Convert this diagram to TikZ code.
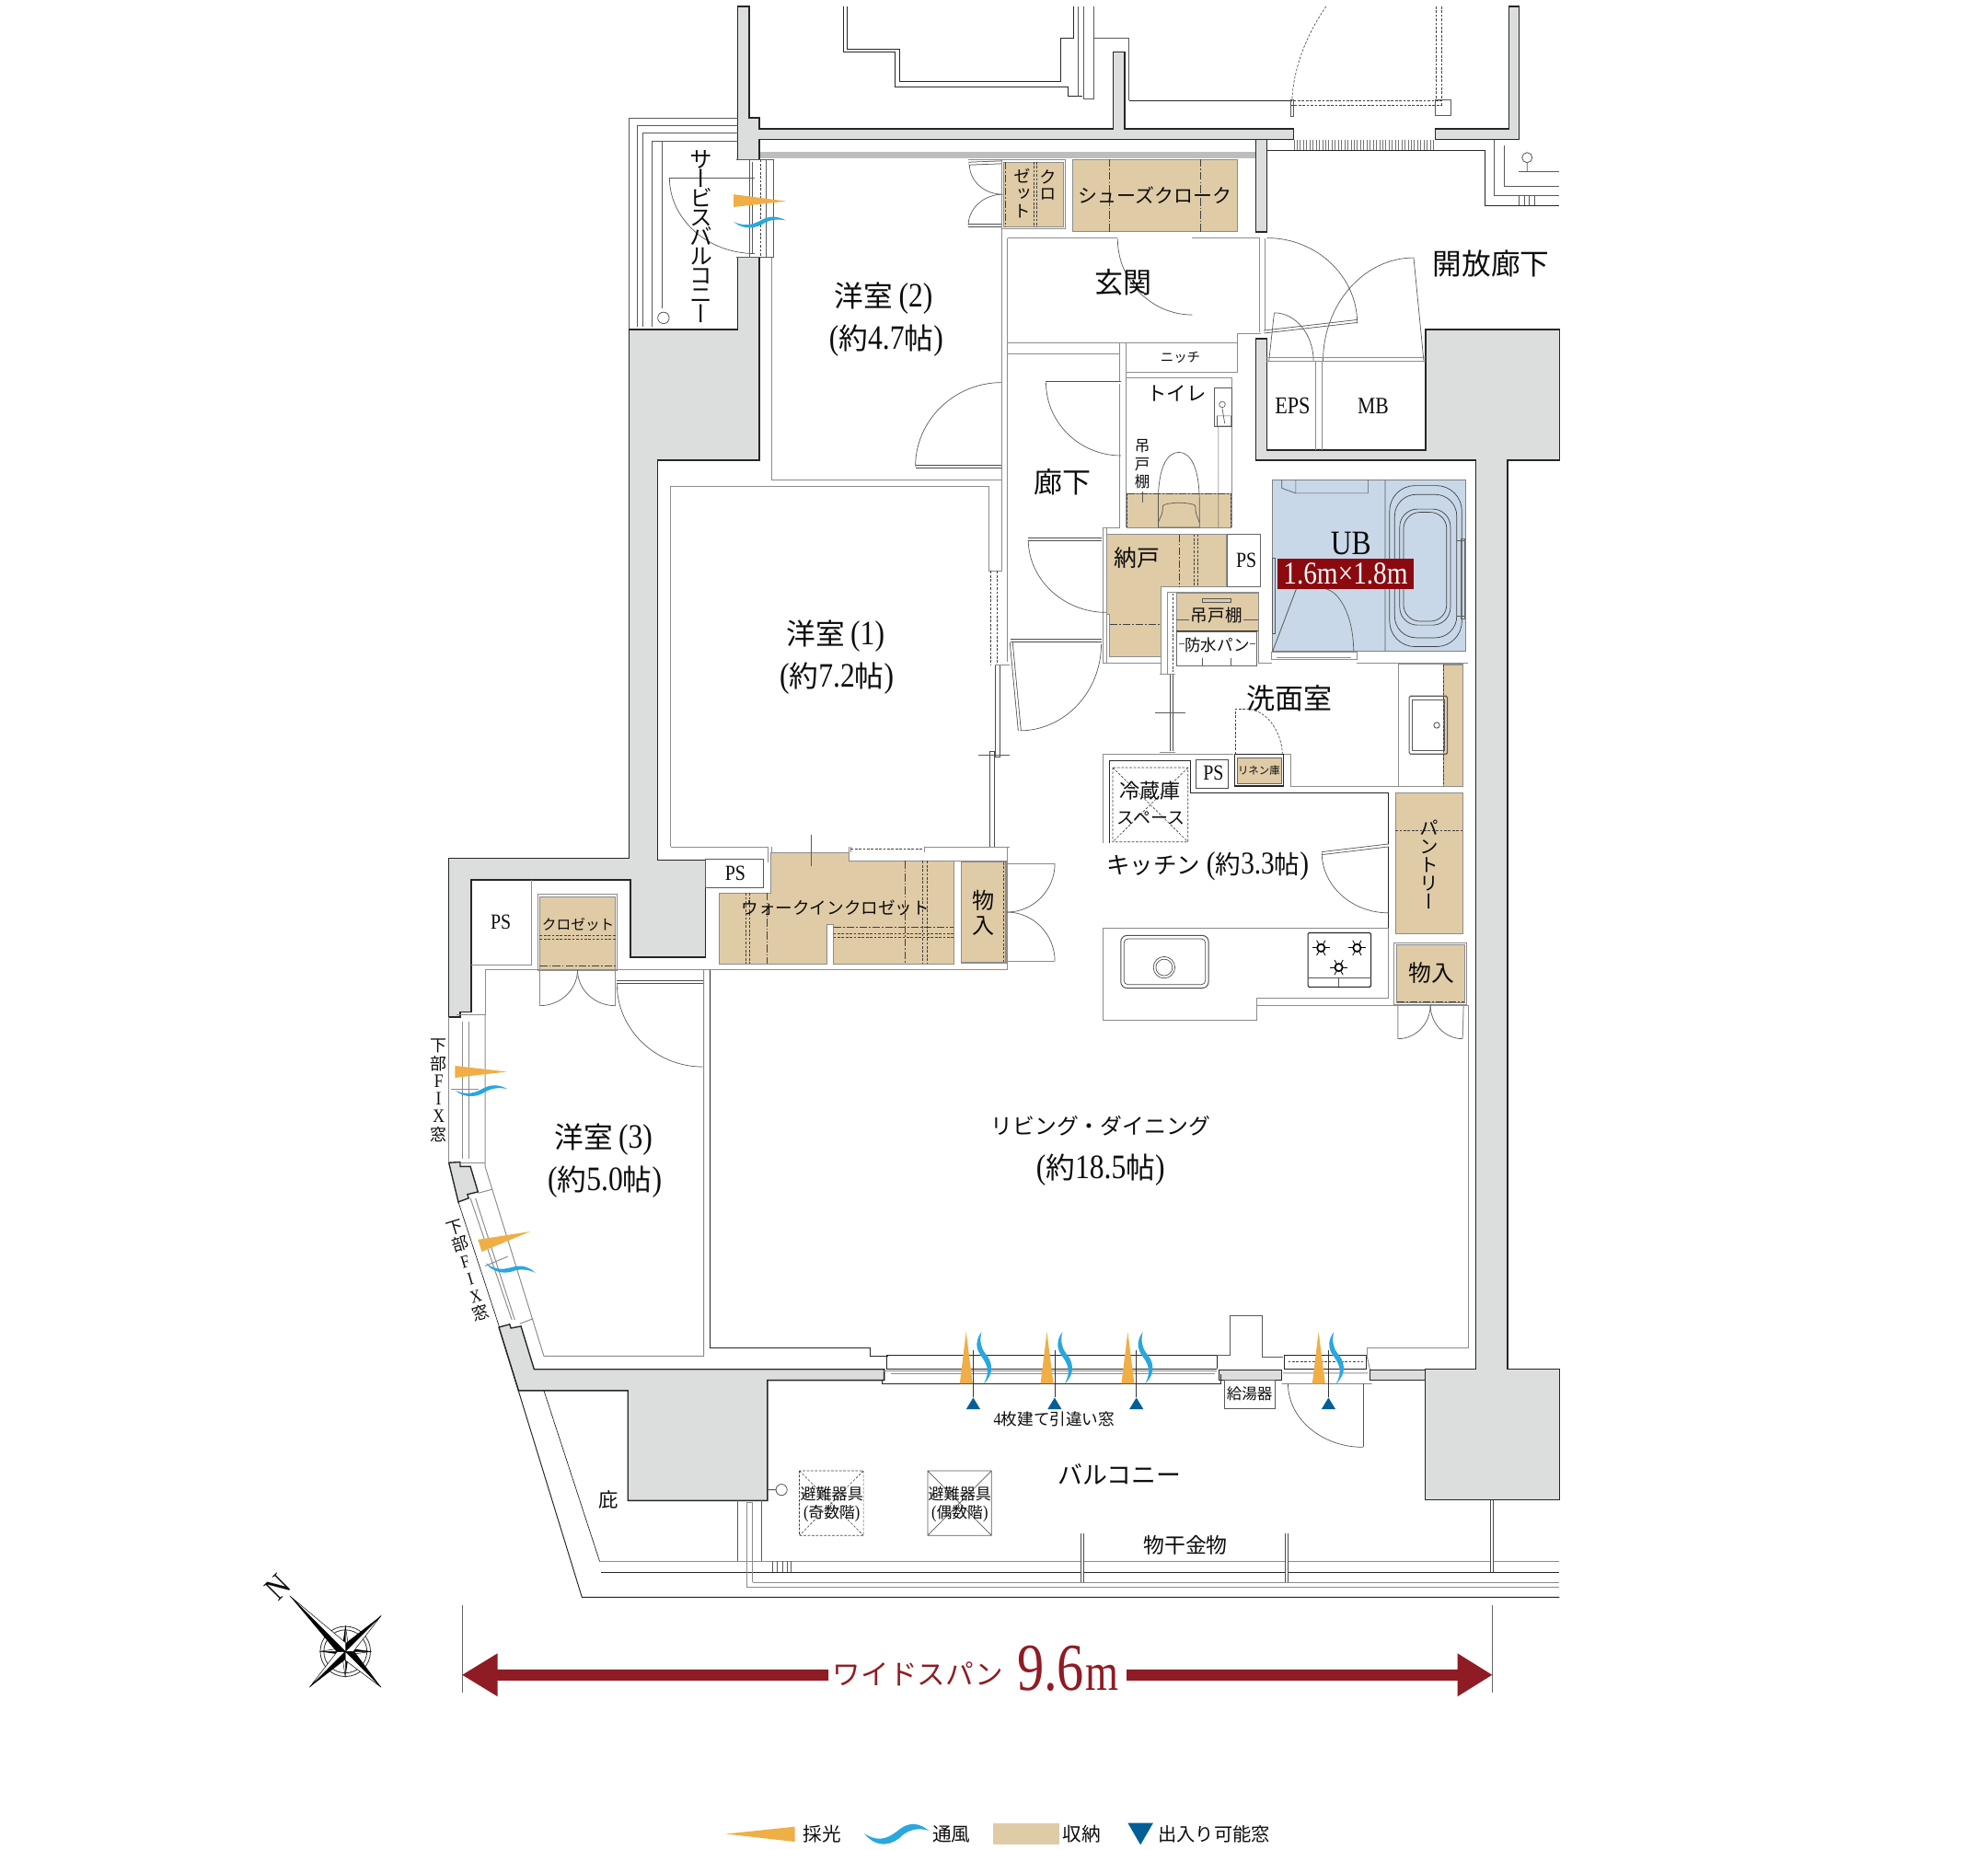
\documentclass[tikz,border=0pt]{standalone}
\usepackage{fontspec}
\usepackage{graphicx}
\usetikzlibrary{calc}
\setmainfont[FakeStretch=.85]{Liberation Serif}
\newfontfamily\jp{Noto Sans CJK JP}
\newfontfamily\jpv[RawFeature=+vert]{Noto Sans CJK JP}
\newfontfamily\bigdig[FakeStretch=.8]{Liberation Serif}
\newcommand\sz[1]{\fontsize{#1}{#1}\selectfont}
\newcommand\szl[2]{\fontsize{#1}{#2}\selectfont}
\newcommand\jl[1]{{\jp\sz{23}#1}}
\newcommand\jk[1]{{\jp\sz{20}#1}}
\definecolor{wallg}{HTML}{DCDDDD}
\definecolor{band}{HTML}{BCBDBD}
\definecolor{stor}{HTML}{DFCBA6}
\definecolor{ub}{HTML}{C8D8E8}
\definecolor{ora}{HTML}{F0AE46}
\definecolor{blu}{HTML}{29A7DF}
\definecolor{tri}{HTML}{005F97}
\definecolor{wine}{HTML}{8F1C24}
\definecolor{ubred}{HTML}{8B0A10}
\tikzset{
 wallp/.style={fill=wallg,draw=black!85,line width=1},
 stbox/.style={fill=stor,draw=black!45,line width=.4},
 ln/.style={draw=black!65,line width=.6},
 dk/.style={draw=black!85,line width=.7},
 gl/.style={draw=black!45,line width=.7},
 tw/.style={draw=black!70,line width=.55,double=white,double distance=1.6},
 dd/.style={draw=black!75,line width=.45,dash pattern=on 2pt off 1.2pt},
 dc/.style={draw=black!75,line width=.45,dash pattern=on 6pt off 1.5pt on 1.2pt off 1.5pt},
 txt/.style={inner sep=0,text=black!95,align=center},
 vt/.style={inner sep=0,text=black!95,align=center}
}
\newcommand\door[3]{\draw[ln,line width=.5] (#1) .. controls ($(#1)!.55!(#3)$) and ($(#2)!.55!(#3)$) .. (#2);}
\newcommand\wave[5]{\fill[blu,shift={(#1,#2)},rotate=#3,xscale=#4,yscale=#5]
 (0,0) .. controls (.25,.38) and (.4,.12) .. (.55,-.15) .. controls (.7,-.42) and (.85,-.38) .. (1,-.1)
 .. controls (.85,-.2) and (.72,-.16) .. (.6,.05) .. controls (.45,.42) and (.2,.58) .. (0,0) -- cycle;}
\begin{document}
\begin{tikzpicture}[x=1pt,y=-1pt]
\useasboundingbox (0,0) rectangle (1568,1459.1);
\fill[white] (0,0) rectangle (1568,1459.1);
% --- UB and storage fills
\fill[ub,draw=black!50,line width=.4] (1003.6,378.4) rectangle (1155.9,513.5);
\path[stbox] (791.7,127.7) rectangle (838.9,179);
\path[stbox] (845.7,125.7) rectangle (975.8,182.7);
\path[stbox] (889,389) rectangle (971,416);
\path[stbox] (872.6,421.4) -- (967.2,421.4) -- (967.2,462.9) -- (915.9,462.9) -- (915.9,517.7) -- (875.2,517.7) -- (875.2,484.5) -- (872.6,484.5) -- cycle;
\path[stbox] (927.6,468) rectangle (992.6,497.8);
\path[stbox] (976,597.5) rectangle (1010.5,618);
\path[stbox] (1138.6,524) rectangle (1153.9,620);
\path[stbox] (1100.6,625) rectangle (1153.9,736);
\path[stbox] (1101.6,745) rectangle (1155.2,791);
\path[stbox] (758.2,680) rectangle (792.6,759);
\path[stbox] (607.8,672.6) -- (669.4,672.6) -- (669.4,679) -- (752,679) -- (752,760) -- (657.4,760) -- (657.4,728.9) -- (652.3,728.9) -- (652.3,760) -- (567,760) -- (567,704.3) -- (607.8,704.3) -- cycle;
\path[stbox] (425.7,707) rectangle (485.3,764.4);
% --- gray walls
\fill[band] (599,120) rectangle (990.5,125);
\path[wallp] (582,5) -- (591,5) -- (591,93) -- (599,93) -- (599,101.7) -- (878,101.7) -- (878,41) -- (887,41) -- (887,101.7) -- (1020.5,101.7) -- (1020.5,110) -- (599,110) -- (599,126) -- (582,126) -- cycle;
\path[wallp] (1132,101.7) -- (1190,101.7) -- (1190,5) -- (1198,5) -- (1198,110) -- (1132,110) -- cycle;
\path[wallp] (990.5,110) rectangle (999,183);
\path[wallp] (990.5,267) -- (999,267) -- (999,355) -- (1124.5,355) -- (1124.5,260) -- (1230,260) -- (1230,363) -- (1189,363) -- (1189,1080) -- (1230,1080) -- (1230,1183) -- (1124,1183) -- (1124,1080) -- (1164,1080) -- (1164,363) -- (990.5,363) -- cycle;
\path[wallp] (496,260) -- (496,677) -- (354,677) -- (354,802) -- (363,802) -- (363,798) -- (371.6,798) -- (371.6,694) -- (497.3,694) -- (497.3,755) -- (556.6,755) -- (556.6,678.5) -- (518.5,678.5) -- (518.5,363) -- (599,363) -- (599,203) -- (582,203) -- (582,260) -- cycle;
\path[wallp] (354,917) -- (363,916.5) -- (363,920) -- (371,920) -- (377,940) -- (368.7,942) -- (369.6,945) -- (361.5,948) -- cycle;
\path[wallp] (393.5,1046.8) -- (402,1044.5) -- (403,1047.5) -- (410.9,1046) -- (421.3,1080) -- (697.2,1080) -- (697.2,1088.6) -- (605.3,1088.6) -- (605.3,1183.5) -- (495.3,1183.5) -- (495.3,1096.8) -- (409,1096.8) -- cycle;
\path[wallp] (961.6,1080.5) rectangle (1011,1088.7);
\path[wallp] (1080.5,1080.5) rectangle (1124,1088.7);
% --- upper neighbour
\draw[dk] (665.6,5) -- (665.6,40.7) -- (706.3,40.7) -- (706.3,68.3) -- (842.3,68.3) -- (842.3,76) -- (853.6,76);
\draw[dk] (668,5) -- (668,38.7) -- (709.8,38.7) -- (709.8,64) -- (836.4,64) -- (836.4,30) -- (847,30) -- (847,5);
\draw[ln] (850,5) -- (850,76) (854.5,5) -- (854.5,78) -- (862.9,78) -- (862.9,5) (862.9,30) -- (890.4,30) -- (890.4,79.3);
\draw[dk] (890.4,79.3) -- (1018,79.3);
\draw[dd] (1018,79.3) rectangle (1136.8,82.7) (1133,5) -- (1133,80) (1136.8,5) -- (1136.8,80);
\draw[ln] (1018,79) rectangle (1020.5,91.7) (1132,79) rectangle (1144,90.7);
\draw[dd] (1046,5) .. controls (1032,25) and (1020,52) .. (1019,80);
\foreach \x in {1020.5,1023,...,1132} {\draw[black!55,line width=.35] (\x,110) -- (\x,119);}
% open corridor lines
\draw[dk] (999,119) -- (1171,119) -- (1171,162.3) -- (1230,162.3);
\draw[ln] (1178.5,110) -- (1178.5,154) -- (1230,154) (1186.8,115) -- (1186.8,146.7) -- (1230,146.7) (1198,135) -- (1230,135);
\draw[ln] (1204.5,124.3) circle (4) (1204.5,128.3) -- (1204.5,135);
\foreach \x in {1198,1202,1206,1210} {\draw[ln,line width=.4] (\x,154) -- (\x,162);}
% --- service balcony
\draw[ln] (496,260) -- (496,93.3) -- (582,93.3) (502.7,258) -- (502.7,99.3) -- (582,99.3) (507,258) -- (507,104.7) -- (582,104.7) (514.4,258) -- (514.4,111.7) -- (582,111.7) (522.3,243) -- (522.3,111.7);
\draw[dk] (496,259.3) -- (582,259.3);
\draw[ln] (523.3,250.7) circle (4.5);
\draw[ln,line width=.5] (528,140) -- (595.4,140);
\door{528,140}{595.4,200}{528,200}
\draw[ln] (581,126) -- (610.6,126) (591,126) -- (591,203) (593.5,128) -- (593.5,200) (604,126) -- (604,203) (610,126) -- (610,203) (581,203) -- (610.6,203);
\draw[dd] (599.5,126) -- (599.5,203);
% --- room lines
\draw[gl] (609,203) -- (609,378.3) -- (790,378.3) -- (790,126) -- (764,126);
\draw[gl] (529,668) -- (529,383.3) -- (780,383.3) -- (780,450.4) -- (790,450.4) -- (790,378.3);
\draw[gl] (529,668) -- (606,668) (729,668) -- (780,668);
\draw[gl] (794.7,187.7) -- (794.7,522);
\draw[dd] (781,450.4) -- (781,524.5) (786.6,450.4) -- (786.6,524.5);
\draw[draw=black!70,line width=.6] (785,524.5) rectangle (788.5,597);
\draw[draw=black!70,line width=.6] (781,593) rectangle (784.5,668);
\draw[gl] (785,524.5) -- (796,524.5) (772,595.6) -- (796,595.6) (779,668) -- (796,668);
\draw[gl] (794.8,668) -- (794.8,765) -- (382.6,765) -- (382.6,800);
\draw[gl] (670,679) -- (794,679);
\draw[gl] (758,679.5) rectangle (794,759.5);
\draw[gl] (606,668) -- (606,680) (608.5,668) -- (608.5,672) (669.4,668) -- (669.4,679) (671,668) -- (671,672);
\draw[dd] (671,669.5) -- (729,669.5);
\draw[gl] (729,668) -- (729,672);
\draw[ln,line width=.4] (640,658.6) -- (640,683);
\path[draw=black!65,fill=white,line width=.6] (556.6,677.6) rectangle (602.3,700);
\draw[gl] (419.5,694) -- (419.5,760.8) -- (371.6,760.8);
\draw[gl] (424,705.5) rectangle (487,765.5);
% room 3
\draw[gl] (382.6,800) -- (382.6,920) -- (429,1069.6) -- (555,1069.6) -- (555,765);
\draw[dk] (560,765) -- (560,1063) -- (686.6,1063) -- (686.6,1069.6) -- (700.2,1069.6);
% genkan and north rooms
\draw[gl] (794.7,187.7) -- (993.5,187.7);
\draw[tw] (881.5,187.6) -- (940.4,187.6);
\draw[tw] (940.4,188) -- (940.4,248.3);
\door{881.5,188.3}{940.4,248.3}{881.5,248.3}
\draw[gl] (794.7,270.7) -- (976,270.7) -- (976,263) -- (994.4,263);
\draw[gl] (794.7,279) -- (883,279) -- (883,270.7) (888,270.7) -- (888,298.3) -- (971.4,298.3) -- (971.4,416);
\draw[gl] (888,293.3) -- (976,293.3) -- (976,270.7);
\draw[gl] (883,279) -- (883,416.3) -- (870,416.3) -- (870,523) -- (915.9,523) (888,298.3) -- (888,416);
\draw[tw] (764,129) -- (790,128);
\draw[tw] (764,178) -- (790,178);
\door{764.7,130}{790.8,153.3}{764.7,153.3}
\door{763.7,178}{790.8,153.3}{763.7,153.3}
\draw[gl] (790,126) rectangle (840.5,180.5);
% entrance
\draw[gl] (993.5,188) -- (993.5,262) (997.4,188) -- (997.4,262);
\draw[tw] (997,261.7) -- (1070.5,253.3);
\door{999.4,187.7}{1070.5,255}{1070.5,187.7}
\draw[ln,line width=.5] (1115,203.3) -- (1123,285);
\door{1115,203.3}{1043.5,285}{1043.5,203.3}
\draw[ln,line width=.5] (1005,246.7) -- (1000.8,285);
\door{1005,246.7}{1036,285}{1036,246.7}
\draw[gl] (999,282) -- (1124.5,282) (999,285) -- (1124.5,285) (1037.6,285) -- (1037.6,355) (1042.5,285) -- (1042.5,355);
% door room 2
\draw[tw] (722,368) -- (790,368);
\door{722,368}{790,301.7}{722,301.7}
\draw[tw] (825,301.7) -- (884,301.7);
\door{825,301.7}{884,359.3}{825,359.3}
% toilet
\draw[ln,line width=.5,fill=white] (957.6,306) rectangle (971.4,336);
\draw[ln,line width=.5] (964,319) circle (2.4) (960,328) rectangle (971,336) (961,336) -- (961,416) (964,322) -- (966,334);
\draw[ln,line width=.5] (913.5,416) -- (913.5,395) .. controls (913.5,370) and (920,356.7) .. (929.8,356.7) .. controls (939.5,356.7) and (946,370) .. (946,395) -- (946,416) -- cycle;
\draw[ln,line width=.5,rounded corners=1.5] (913.5,412) -- (917,404) -- (917,398.5) .. controls (925,396) and (935,396) .. (943,398.5) -- (943,404) -- (946,412);
\draw[ln,line width=.4] (901,388) -- (901,396);
\draw[dc] (889,389) -- (971,389);
\draw[dd] (889,389) -- (889,416) (970.5,389) -- (970.5,416);
% PS boxes, nando
\draw[fill=white,draw=black!60,line width=.5] (968,421) rectangle (994,463);
\draw[fill=white,draw=black!70,line width=.7] (943,599.5) rectangle (968.6,621.4);
\draw[dc] (930,421.4) -- (930,462.9) (875.2,492.5) -- (915.9,492.5);
\draw[dd] (942,421.4) -- (942,462.9) (945,421.4) -- (945,462.9);
\door{811,425.2}{872.6,483}{811,483}
\draw[tw] (811,425.5) -- (869,425.5);
\draw[gl] (872.6,417) -- (872.6,523);
% hall door
\draw[tw] (797,505.2) -- (869,505.2);
\draw[tw] (797.6,506.7) -- (804.2,576.3);
\door{804.2,576.3}{868.6,508}{868.6,576.3}
% pan room
\draw[gl] (915.9,463) -- (915.9,532) -- (921,532) -- (921,467) -- (992.6,467) -- (992.6,523) -- (1003,523);
\draw[dd] (925,468) -- (925,530);
\path[fill=white,draw=black!60,line width=.5] (928,498) rectangle (991,525);
\draw[ln,line width=.5] (928,489) -- (938,489) (981,489) -- (992,489) (930,508) -- (934,508) (986,508) -- (990,508) (948.5,472) rectangle (971,475) (948.5,519) -- (948.5,525) (971,519) -- (971,525);
\draw[draw=black!80,line width=.7] (927.6,497.8) -- (992.6,497.8);
% wash room
\draw[gl] (1070,523) -- (1158,523);
\draw[tw] (924.3,532) -- (924.3,592.6);
\draw[ln,line width=.5] (911,562.4) -- (935,562.4) (772,595.6) -- (796,595.6);
\draw[gl] (915,532) -- (927,532) (915,593.5) -- (927,593.5);
\draw[gl] (870,664.6) -- (870,595) -- (972.6,595) (1012,595) -- (1018,595) -- (1018,620) -- (1154,620);
\draw[dk] (875,664.6) -- (875,600) -- (938.6,600) -- (938.6,625.2) -- (1095.2,625.2) -- (1095.2,787.3);
\draw[draw=black!85,line width=.9] (974,595) rectangle (1012.5,620);
\draw[fill=stor,draw=black!60,line width=.4] (976,597.5) rectangle (1010.5,618);
\draw[gl] (1103,524) rectangle (1154,620);
\draw[dd] (1138.6,524) -- (1138.6,620);
\draw[ln,line width=.8,rounded corners=1] (1111.5,549) rectangle (1141.6,594.7);
\draw[ln,line width=.5] (1114,552) rectangle (1139,592);
\draw[draw=black!70,line width=.6] (1133.2,572) circle (2.3);
\draw[dd] (974.5,595) -- (974.5,559) -- (982,559);
\draw[dd] (1011.5,595) .. controls (1011,577) and (999,559) .. (982,559);
% fridge
\draw[dd] (877.6,605.4) rectangle (937,664) (877.6,605.4) -- (937,664) (937,605.4) -- (877.6,664);
% kitchen counter
\draw[gl] (870,732.2) -- (1095.2,732.2) -- (1095.2,787.3) -- (991,787.3) -- (991,804.5) -- (870,804.5) -- cycle;
\draw[gl] (991,792.7) -- (1158.2,792.7) -- (1158.2,1063) -- (1078.6,1063) -- (1078.6,1069);
\draw[draw=black!70,line width=.7,rounded corners=5] (884,737.8) rectangle (953.2,779.3);
\draw[draw=black!70,line width=.5,rounded corners=3] (886.5,740.5) rectangle (950.7,776.5);
\draw[draw=black!70,line width=.5] (918.2,763) circle (8.5) circle (6.5);
\draw[draw=black!85,line width=.8,rounded corners=1] (1031.6,735.7) rectangle (1081.3,778.4);
\draw[ln,line width=.5] (1031.6,771) -- (1081.3,771) (1056,771) -- (1056,778);
\foreach \p in {(1041.9,747.6),(1070.3,747.6),(1055.9,763)} {
 \draw[draw=black,line width=1.2] \p circle (3);
 \foreach \a in {0,60,...,300} {\draw[draw=black,line width=.6] \p ++(\a:3) -- ++(\a:3.8);}
}
\draw[tw] (1042.6,673) -- (1095.2,666.7);
\door{1042.6,672.6}{1095.2,720}{1042.6,720}
\draw[gl] (1099.5,744) rectangle (1157,792);
\draw[dc] (1101.6,789.7) -- (1155.2,789.7);
\draw[gl] (1102.6,793) -- (1102.6,819.3) (1154.3,793) -- (1153.6,819.3);
\door{1102.6,819.3}{1128.2,792.7}{1128.2,819.3}
\door{1153.6,819.3}{1128.2,792.7}{1128.2,819.3}
\draw[gl] (794.2,681) -- (832,681) (794.2,758) -- (832,758);
\door{832,681}{794.2,719.4}{832,719.4}
\draw[ln,line width=.5] (832,758) .. controls (832,737) and (815,719.4) .. (794.2,719.4);
\draw[dd] (791.6,680) -- (791.6,759);
% pantry dash
\draw[dd] (1100.6,655) -- (1153.9,655);
% shoe / closet
\draw[dc] (875,125.7) -- (875,182.7) (946.5,125.7) -- (946.5,182.7) (793,127.7) -- (793,179);
\draw[dd] (815.3,127.7) -- (815.3,179) (817.8,127.7) -- (817.8,179);
% WIC
\draw[dc] (604.6,704.3) -- (604.6,760) (713.5,679) -- (713.5,760) (657.4,731) -- (752,731);
\draw[dd] (588.4,704.3) -- (588.4,760) (591,704.3) -- (591,760) (727.8,679) -- (727.8,760) (731,679) -- (731,760) (657.4,736) -- (752,736) (657.4,739) -- (752,739);
\draw[dd] (425.7,737.7) -- (485.3,737.7) (425.7,740.7) -- (485.3,740.7);
\draw[dc] (425.7,762) -- (485.3,762);
% closet doors and room3 door
\draw[gl] (425.7,765) -- (425.7,793.2) (485.3,765) -- (485.3,793.2);
\door{425.7,793.2}{455.5,765}{455.5,793.2}
\door{485.3,793.2}{455.5,765}{455.5,793.2}
\draw[tw] (486.6,774.5) -- (554.4,774.5);
\door{486.6,776}{554.4,841.4}{486.6,841.4}
% left window
\draw[gl] (360,800) -- (383,800) (365,806) -- (365,914) (369.5,806) -- (369.5,914) (355.7,859) -- (377.7,859) (354,802) -- (354,917) (363,917) -- (382.6,917);
\draw[gl] (377,941) -- (388.4,938) (410,1044) -- (420.5,1040);
\draw[gl] (371,945) -- (403.7,1041) (375,945) -- (406,1041) (382.6,998.5) -- (400.4,991);
\draw[dk,line width=.5] (361.5,948) -- (394,1047);
% balcony
\draw[dk] (393.5,1046.8) -- (459,1259.7) -- (1230,1259.7);
\draw[dk,line width=.5] (429,1096.8) -- (473,1231.5);
\draw[gl] (473,1231.5) -- (1230,1231.5) (589,1252) -- (1230,1252) (593.5,1248) -- (1230,1248);
\draw[dk] (473.8,1240) -- (1230,1240);
\draw[gl] (589,1252) -- (589,1185) -- (593.5,1185) -- (593.5,1248);
\draw[ln] (582,1183.5) -- (582,1231.5) (600.5,1183.5) -- (600.5,1231.5);
\foreach \x in {609,613,617,621,624} {\draw[ln,line width=.4] (\x,1231.5) -- (\x,1240);}
\draw[ln] (605.3,1175) -- (612,1175) (616.4,1175) circle (4.4);
\draw[tw] (853.8,1209.7) -- (853.8,1248);
\draw[tw] (1015,1209.7) -- (1015,1248);
\draw[tw] (1176.5,1183.5) -- (1176.5,1240);
% evacuation
\draw[dd] (630.5,1160) rectangle (681,1211) (630.5,1160) -- (681,1211) (681,1160) -- (630.5,1211);
\draw[ln,line width=.5] (731.7,1160) rectangle (782,1211) (731.7,1160) -- (782,1211) (782,1160) -- (731.7,1211);
% south windows
\draw[dk,line width=.6] (699,1069) -- (960,1069) (699,1069) -- (699,1079.4) (960,1069) -- (960,1079.4) (699,1079.4) -- (960,1079.4);
\draw[gl] (697,1081.5) -- (960,1081.5) (703,1083.5) -- (958,1083.5) (698,1079.4) -- (698,1088.6);
\draw[dk,line width=.6] (695.8,1088.6) -- (695.8,1091.4) -- (962.8,1091.4) -- (962.8,1084);
\draw[ln,line width=.5] (960,1069) -- (970.4,1069) -- (970.4,1037.6) -- (995.8,1037.6) -- (995.8,1069.9) -- (1012,1069.9);
\draw[dk,line width=.6] (1012.9,1080) -- (1012.9,1069) -- (1077.8,1069) -- (1077.8,1080) -- cycle;
\draw[dd] (1016,1074) -- (1075,1074);
\draw[gl] (1012,1083) -- (1079,1083) (1011,1091.4) -- (1082,1091.4) (1080.5,1080) -- (1078,1069);
\draw[ln,line width=.5] (1075.1,1091.4) -- (1075.1,1141.4);
\door{1015.9,1091.4}{1075.1,1141.4}{1015.9,1141.4}
\path[fill=white,draw=black!65,line width=.5] (966,1088.7) rectangle (1006,1111);
% bath
\draw[ln,line width=.5] (1092.5,378.4) -- (1092.5,513.5) (1011,378.4) -- (1011,385) -- (1022,389) -- (1079,389) -- (1079,378.4) (1022,378.4) -- (1022,389);
\draw[draw=black!75,line width=.5,rounded corners=20] (1096,383) rectangle (1153,510);
\draw[draw=black!75,line width=.5,rounded corners=17] (1100,390) rectangle (1149,503);
\draw[draw=black!75,line width=.5,rounded corners=14] (1104,401.5) rectangle (1144,493);
\draw[draw=black!75,line width=.5,rounded corners=13] (1107,404) rectangle (1141,490);
\draw[ln,line width=.5] (1149,426) -- (1155.5,426) (1149,486) -- (1155.5,486);
\draw[draw=black!60,line width=.5] (1152,425) rectangle (1155.5,488);
\draw[ln,line width=.6] (1022.6,464) -- (1003.6,514);
\door{1042.6,464}{1067.6,513.5}{1067.6,464}
\draw[gl] (1002.6,514) rectangle (1070,520) (1007,519) -- (1066,519);
\draw[ln] (1003.6,440) rectangle (1006,500);
% orange wedges
\foreach \x in {762,825.7,889.5,1040} {
 \fill[ora] (\x-5,1091.4) -- (\x,1050.5) -- (\x+5.2,1091.4) -- cycle;
}
\foreach \x in {774.8,838.6,902,1052.7} {\wave{\x+1}{1091.4}{90}{41}{16}}
\foreach \x in {767.6,831.8,896.3,1047.8} {
 \draw[draw=black!80,line width=.45] (\x,1065) -- (\x,1102);
 \fill[tri] (\x,1102.3) -- (\x+5.5,1111.4) -- (\x-5.5,1111.4) -- cycle;
}
\fill[ora] (358.9,840.6) -- (399.8,845.3) -- (358.9,850) -- cycle;
\wave{359}{860}{0}{41}{12}
\fill[ora] (377,977.7) -- (418.2,971.3) -- (380,987.2) -- cycle;
\wave{383}{996}{-13}{40}{12}
\fill[ora] (578.7,153.3) -- (620,158.7) -- (578.7,163.3) -- cycle;
\wave{578.7}{175}{0}{41}{12}
% --- width arrow
\draw[black!60,line width=.5] (364.6,1266) -- (364.6,1335) (1176.9,1266) -- (1176.9,1335);
\fill[wine] (364.6,1321) -- (392.4,1304) -- (392.4,1316.8) -- (653.5,1316.8) -- (653.5,1325.5) -- (392.4,1325.5) -- (392.4,1338) -- cycle;
\fill[wine] (1176.9,1321) -- (1149.6,1304) -- (1149.6,1316.8) -- (888.7,1316.8) -- (888.7,1325.5) -- (1149.6,1325.5) -- (1149.6,1338) -- cycle;
% --- legend
\fill[ora] (572.4,1446.4) -- (627,1440.7) -- (627,1452.6) -- cycle;
\wave{681.6}{1446}{0}{51}{22}
\fill[stor] (783.5,1438) rectangle (835.4,1455);
\fill[tri] (889.5,1437.7) -- (909.6,1437.7) -- (899.5,1455) -- cycle;
% --- compass
\begin{scope}[shift={(272.4,1302.5)}]
\draw[black!80,line width=.6] (0,0) circle (19.8) (0,0) circle (17);
\foreach \a/\L/\w in {0/20.5/2.6,90/20.5/2.6,180/20.5/2.6,270/20.5/2.6,45/40/4.5,225/40/4.5,135/62/5,315/40/5} {
 \begin{scope}[rotate=\a]
 \path[fill=white,draw=black,line width=.35] (0,0) -- (\L,0) -- (\w,\w) -- cycle;
 \fill[black] (0,0) -- (\L,0) -- (\w,-\w) -- cycle;
 \end{scope}
}
\end{scope}
% --- text
\node[txt,font=\sz{26},rotate=45] (compN) at (219.5,1251.5) {N};
\node[vt,font=\jpv\szl{18}{15.3}] (svc) at (553,186.5) {サ\\ー\\ビ\\ス\\バ\\ル\\コ\\ニ\\ー};
\node[txt,font=\sz{27}] (r2a) at (697,235.5) {\jl{洋室}\,(2)};
\node[txt,font=\sz{27}] (r2b) at (699,269) {(\jl{約}4.7\jl{帖})};
\node[txt,font=\sz{27}] (r1a) at (659,502) {\jl{洋室}\,(1)};
\node[txt,font=\sz{27}] (r1b) at (660,535) {(\jl{約}7.2\jl{帖})};
\node[txt,font=\sz{27}] (r3a) at (476,899) {\jl{洋室}\,(3)};
\node[txt,font=\sz{27}] (r3b) at (477,932) {(\jl{約}5.0\jl{帖})};
\node[txt,font=\jp\sz{17.3}] (ld) at (868,888) {リビング・ダイニング};
\node[txt,font=\sz{27}] (ldb) at (868,923) {(\jl{約}18.5\jl{帖})};
\node[txt,font=\sz{25}] (kit) at (952.5,683) {{\jp\sz{18.5}キッチン}\hspace{5pt}(\jk{約}3.3\jk{帖})};
\node[txt,font=\jp\sz{22.5}] (wash) at (1017,551) {洗面室};
\node[txt,font=\jp\sz{22.5}] (gen) at (886,223) {玄関};
\node[txt,font=\jp\sz{22.5}] (rou) at (838,380) {廊下};
\node[txt,font=\jp\sz{15.5}] (toi) at (928,310) {トイレ};
\node[txt,font=\jp\sz{18}] (nan) at (897,440) {納戸};
\node[txt,font=\jp\sz{23}] (kai) at (1176,208) {開放廊下};
\node[txt,font=\jp\sz{15.2}] (shoe) at (911,154) {シューズクローク};
\node[vt,font=\jpv\szl{13.5}{13.5}] (clo1) at (827,146) {ク\\ロ};
\node[vt,font=\jpv\szl{13.5}{14}] (clo2) at (806,152.5) {ゼ\\ッ\\ト};
\node[txt,font=\jp\sz{13.5}] (wic) at (659,716) {ウォークインクロゼット};
\node[txt,font=\jp\sz{11.4}] (clo3) at (456,729) {クロゼット};
\node[vt,font=\jp\szl{17.5}{19.5}] (mono1) at (775.5,720) {物\\入};
\node[txt,font=\jp\sz{18}] (mono2) at (1129,767) {物入};
\node[vt,font=\jpv\szl{15}{14.5}] (pan) at (1127,682) {パ\\ン\\ト\\リ\\ー};
\node[vt,font=\jp\szl{12}{14}] (tsu1) at (901,366) {吊\\戸\\棚};
\node[txt,font=\jp\sz{13.5}] (tsu2) at (959.5,485.5) {吊戸棚};
\node[txt,font=\jp\sz{12.7}] (bou) at (960,509) {防水パン};
\node[txt,font=\jp\sz{10.5}] (nic) at (931,282) {ニッチ};
\node[txt,font=\sz{19}] (eps) at (1019.5,320) {EPS};
\node[txt,font=\sz{18.5}] (mb) at (1083,320) {MB};
\node[txt,font=\sz{17}] (ps1) at (983,442) {PS};
\node[txt,font=\sz{17}] (ps2) at (957,610) {PS};
\node[txt,font=\sz{17}] (ps3) at (580,689) {PS};
\node[txt,font=\sz{17}] (ps4) at (395,727) {PS};
\node[txt,font=\jp\sz{8.3}] (lin) at (993,608) {リネン庫};
\node[txt,font=\jp\sz{16}] (rei) at (907,624) {冷蔵庫};
\node[txt,font=\jp\sz{13.8}] (spc) at (908,645) {スペース};
\node[txt,font=\sz{27}] (ubt) at (1065.5,428.5) {UB};
\node[fill=ubred,text=white,inner sep=0,minimum width=107.4,minimum height=23.7,font=\sz{25}] (ubs) at (1061.3,452.5) {1.6m×1.8m};
\node[txt,font=\jp\sz{12}] (kyu) at (985.5,1099.5) {給湯器};
\node[txt,font=\sz{14}] (win4) at (831.5,1119) {4{\jp\sz{12.8}枚建て引違い窓}};
\node[txt,font=\jp\sz{19.5}] (bal) at (883,1163) {バルコニー};
\node[txt,font=\jp\sz{12.4}] (eva1) at (656,1178) {避難器具};
\node[txt,font=\sz{14}] (eva1b) at (656,1193.5) {({\jp\sz{12.2}奇数階})};
\node[txt,font=\jp\sz{12.4}] (eva2) at (757,1178) {避難器具};
\node[txt,font=\sz{14}] (eva2b) at (757,1193.5) {({\jp\sz{12.2}偶数階})};
\node[txt,font=\jp\sz{16.6}] (mon) at (935,1219) {物干金物};
\node[txt,font=\jp\sz{15.5}] (hisashi) at (480,1183) {庇};
\node[vt,font=\szl{15}{14}] (fix1) at (346,860) {{\jp\sz{13}下}\\{\jp\sz{13}部}\\F\\I\\X\\{\jp\sz{13}窓}};
\node[vt,font=\szl{14}{14.2},rotate=17] (fix2) at (369,1002) {{\jp\sz{13}下}\\{\jp\sz{13}部}\\F\\I\\X\\{\jp\sz{13}窓}};
\node[txt,font=\jp\sz{22.2},text=wine] (span) at (724,1320) {ワイドスパン};
\node[inner sep=0,font=\bigdig\sz{53},text=wine,anchor=base west] (num) at (802,1333) {9.6};
\node[inner sep=0,font=\bigdig\sz{42},text=wine,anchor=base west] (numm) at (856,1333) {m};
\node[txt,font=\jp\sz{15}] (l1) at (648.5,1446.5) {採光};
\node[txt,font=\jp\sz{15}] (l2) at (750.5,1446.5) {通風};
\node[txt,font=\jp\sz{15}] (l3) at (853,1446.5) {収納};
\node[txt,font=\jp\sz{14.7}] (l4) at (957.5,1446.5) {出入り可能窓};
\end{tikzpicture}
\end{document}
